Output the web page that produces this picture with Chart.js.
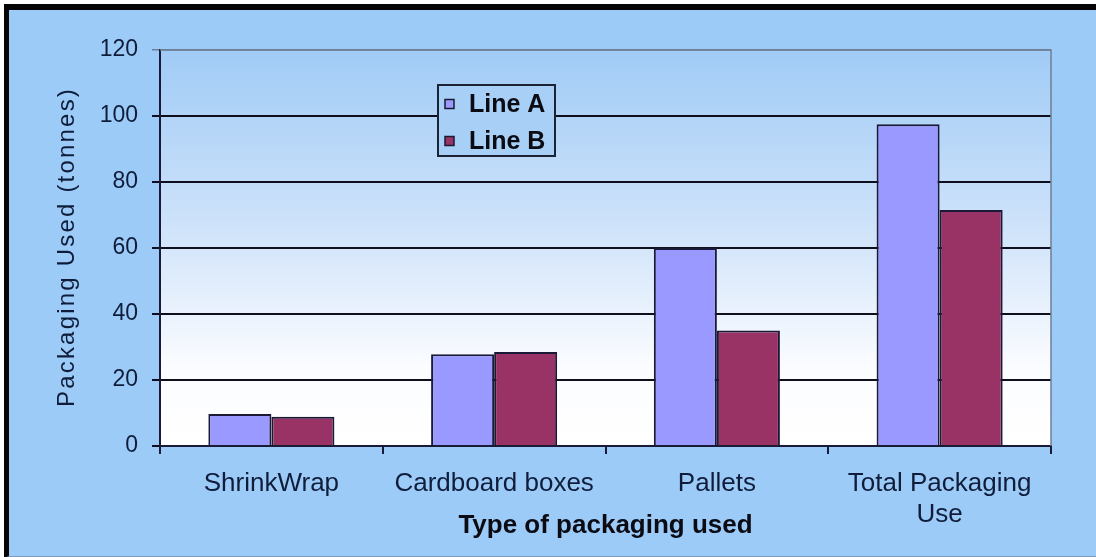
<!DOCTYPE html>
<html>
<head>
<meta charset="utf-8">
<script src="https://cdn.jsdelivr.net/npm/chart.js@4.4.1/dist/chart.umd.min.js"></script>
<style>
  html, body { margin: 0; padding: 0; background: #ffffff; }
  #wrap { position: relative; width: 1096px; height: 557px; overflow: hidden; }
  #frame {
    position: absolute; left: 4px; top: 4px; width: 1100px; height: 546px;
    background: #9dcbf8;
    border-top: 6px solid #050508; border-left: 5px solid #050508;
    border-bottom: 2px solid #7f9bb8;
  }
  #chart { position: absolute; left: 0; top: 0; }
</style>
</head>
<body>
<div id="wrap">
  <div id="frame"></div>
  <canvas id="chart" width="1096" height="557"></canvas>
</div>
<script>
// Packaging use per line, in tonnes
const categories = ['ShrinkWrap', 'Cardboard boxes', 'Pallets', ['Total Packaging', 'Use']];
const lineA = [9.7, 27.8, 60, 97.5];
const lineB = [8.9, 28.5, 35, 71.5];
const seriesNames = ['Line A', 'Line B'];
const yTitle = 'Packaging Used (tonnes)';
const xTitle = 'Type of packaging used';

const FONT = '"Liberation Sans", Arial, Helvetica, sans-serif';
const INK = '#0f1d3a';
const EDGE = '#1a1a36';

// Plot-area wash: pale blue at the top fading to white near the baseline
const plotBackground = {
  id: 'plotBackground',
  beforeDraw(chart) {
    const { ctx, chartArea: a } = chart;
    const g = ctx.createLinearGradient(0, a.top, 0, a.bottom);
    g.addColorStop(0, '#a0cbf6');
    g.addColorStop(0.45, '#cfe3fa');
    g.addColorStop(0.8, '#fbfcff');
    g.addColorStop(1, '#ffffff');
    ctx.save();
    ctx.fillStyle = g;
    ctx.fillRect(a.left, a.top, a.right - a.left, a.bottom - a.top);
    ctx.restore();
  },
  afterDatasetsDraw(chart) {
    // grey frame on the right edge of the plot
    const { ctx, chartArea: a } = chart;
    ctx.save();
    ctx.strokeStyle = '#6f7f94';
    ctx.lineWidth = 1.5;
    ctx.beginPath();
    ctx.moveTo(a.left, a.top);
    ctx.lineTo(a.right, a.top);
    ctx.lineTo(a.right, a.bottom);
    ctx.stroke();
    ctx.restore();
  }
};

// Rotated, letter-spaced y-axis title
const yAxisTitle = {
  id: 'yAxisTitle',
  afterDraw(chart) {
    const { ctx, chartArea: a } = chart;
    ctx.save();
    ctx.translate(67, (a.top + a.bottom) / 2 - 1);
    ctx.rotate(-Math.PI / 2);
    ctx.font = '24px ' + FONT;
    if ('letterSpacing' in ctx) ctx.letterSpacing = '2.2px';
    ctx.fillStyle = INK;
    ctx.textAlign = 'center';
    ctx.textBaseline = 'middle';
    ctx.fillText(yTitle, 0, 0);
    ctx.restore();
  }
};

// Boxed legend floating inside the plot
const boxedLegend = {
  id: 'boxedLegend',
  afterDraw(chart) {
    const { ctx } = chart;
    const x = 438, y = 85, w = 117, h = 71;
    ctx.save();
    ctx.fillStyle = '#a8d0f6';
    ctx.fillRect(x, y, w, h);
    ctx.strokeStyle = '#1b2233';
    ctx.lineWidth = 2;
    ctx.strokeRect(x, y, w, h);
    ctx.font = 'bold 25px ' + FONT;
    ctx.textBaseline = 'middle';
    ctx.textAlign = 'left';
    chart.data.datasets.forEach((ds, i) => {
      const cy = y + 19 + i * 37;
      ctx.fillStyle = ds.backgroundColor;
      ctx.fillRect(445, cy - 4.5, 9, 9);
      ctx.strokeStyle = EDGE;
      ctx.lineWidth = 1.5;
      ctx.strokeRect(445, cy - 4.5, 9, 9);
      ctx.fillStyle = '#0b0b14';
      ctx.fillText(ds.label, 469, cy + 1);
    });
    ctx.restore();
  }
};

new Chart(document.getElementById('chart'), {
  type: 'bar',
  data: {
    labels: categories,
    datasets: [
      { label: seriesNames[0], data: lineA, backgroundColor: '#9999ff', borderColor: EDGE, borderWidth: 2 },
      { label: seriesNames[1], data: lineB, backgroundColor: '#993366', borderColor: EDGE, borderWidth: 2 }
    ]
  },
  options: {
    responsive: false,
    animation: false,
    devicePixelRatio: 1,
    layout: { padding: { left: 0, top: 50, right: 45, bottom: 16 } },
    datasets: { bar: { categoryPercentage: 0.566, barPercentage: 1.0 } },
    plugins: { legend: { display: false }, tooltip: { enabled: false } },
    scales: {
      x: {
        grid: { display: true, drawOnChartArea: false, drawTicks: true, tickLength: 8, color: EDGE, lineWidth: 2, offset: true },
        border: { display: true, color: EDGE, width: 2 },
        ticks: { color: INK, font: { family: FONT, size: 26, lineHeight: 1.2 }, padding: 14, maxRotation: 0, autoSkip: false },
        title: { display: true, text: xTitle, color: '#0b0b14', font: { family: FONT, size: 26, weight: 'bold', lineHeight: 1.2 }, padding: { top: 0, bottom: 0 } },
        afterFit(scale) { scale.height = 95; }
      },
      y: {
        min: 0, max: 120,
        grid: {
          color: (c) => (c.tick && c.tick.value === 120 ? '#6f7f94' : '#0e0e1c'),
          lineWidth: (c) => (c.tick && c.tick.value === 120 ? 1.5 : 2),
          tickLength: 8
        },
        border: { display: true, color: EDGE, width: 2 },
        ticks: { stepSize: 20, color: INK, font: { family: FONT, size: 23 }, padding: 14 },
        afterFit(scale) { scale.width = 160; }
      }
    }
  },
  plugins: [plotBackground, yAxisTitle, boxedLegend]
});
</script>
</body>
</html>
